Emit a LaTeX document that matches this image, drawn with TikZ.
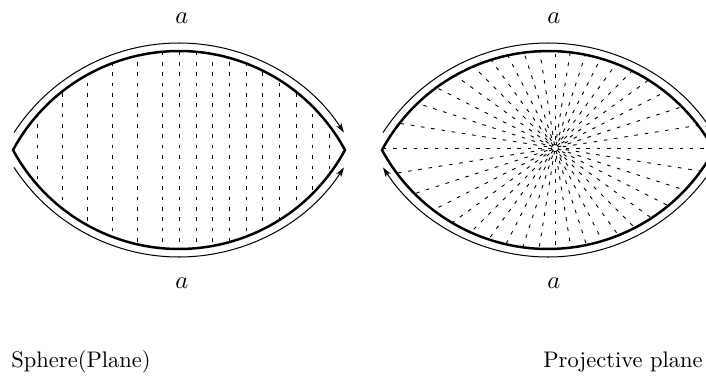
\documentclass[tikz,border=0pt]{standalone}
\usetikzlibrary{arrows.meta}
\begin{document}
\begin{tikzpicture}[x=0.4444pt,y=0.4444pt,
  lensline/.style={line width=1.1pt},
  outerarc/.style={line width=0.45pt},
  dashline/.style={line width=0.4pt, dash pattern=on 1.6pt off 3pt},
  arrowtip/.style={-{Stealth[length=4.2pt,width=2.6pt,inset=1pt]}},
  lab/.style={inner sep=0pt, font=\fontsize{11}{13}\selectfont},
  captext/.style={inner sep=0pt, font=\fontsize{10}{12}\selectfont}]
\useasboundingbox (0,0) rectangle (706,383);
\def\lensL{(13,233) arc[start angle=151.6, end angle=28.4, radius=83.86pt] arc[start angle=-28.4, end angle=-151.6, radius=83.86pt] -- cycle}
\def\lensR{(382,233) arc[start angle=151.6, end angle=28.4, radius=83.86pt] arc[start angle=-28.4, end angle=-151.6, radius=83.86pt] -- cycle}
% left lens: vertical dashed lines
\begin{scope}
  \clip \lensL;
  \foreach \x in {37.7,62.7,87.7,112.7,137.7,162.7,179.3,196,212.7,229.3,246,262.7,279.3,296,312.7,329.3}
    \draw[dashline] (\x,100) -- (\x,370);
\end{scope}
\draw[lensline] \lensL;
% right lens: radial dashed lines
\coordinate (rc) at (555,235);
\begin{scope}
  \clip \lensR;
  \foreach \a [count=\i] in {0,9,...,351}
    \draw[dashline, dash phase={mod(\i,3)*1.2pt}] (rc) ++(\a:3) -- ++(\a:400);
\end{scope}
\draw[lensline] \lensR;
% outer arrows, left
\draw[outerarc,arrowtip] (179,143.3) ++(147:196.7) arc[start angle=147, end angle=33, radius=87.41pt];
\draw[outerarc,arrowtip] (179,322.7) ++(213:196.7) arc[start angle=213, end angle=327, radius=87.41pt];
% outer arrows, right
\draw[outerarc,arrowtip] (548,143.3) ++(147:196.7) arc[start angle=147, end angle=33, radius=87.41pt];
\draw[outerarc,arrowtip] (548,322.7) ++(327:196.7) arc[start angle=327, end angle=213, radius=87.41pt];
% labels
\node[lab] (aLT) at (182,364.5) {$a$};
\node[lab] (aLB) at (182,99.5) {$a$};
\node[lab] (aRT) at (554,364.5) {$a$};
\node[lab] (aRB) at (554,99.5) {$a$};
\node[captext, anchor=base west] (capL) at (11,16) {Sphere(Plane)};
\node[captext, anchor=base east] (capR) at (703,16) {Projective plane};
\end{tikzpicture}
\end{document}
